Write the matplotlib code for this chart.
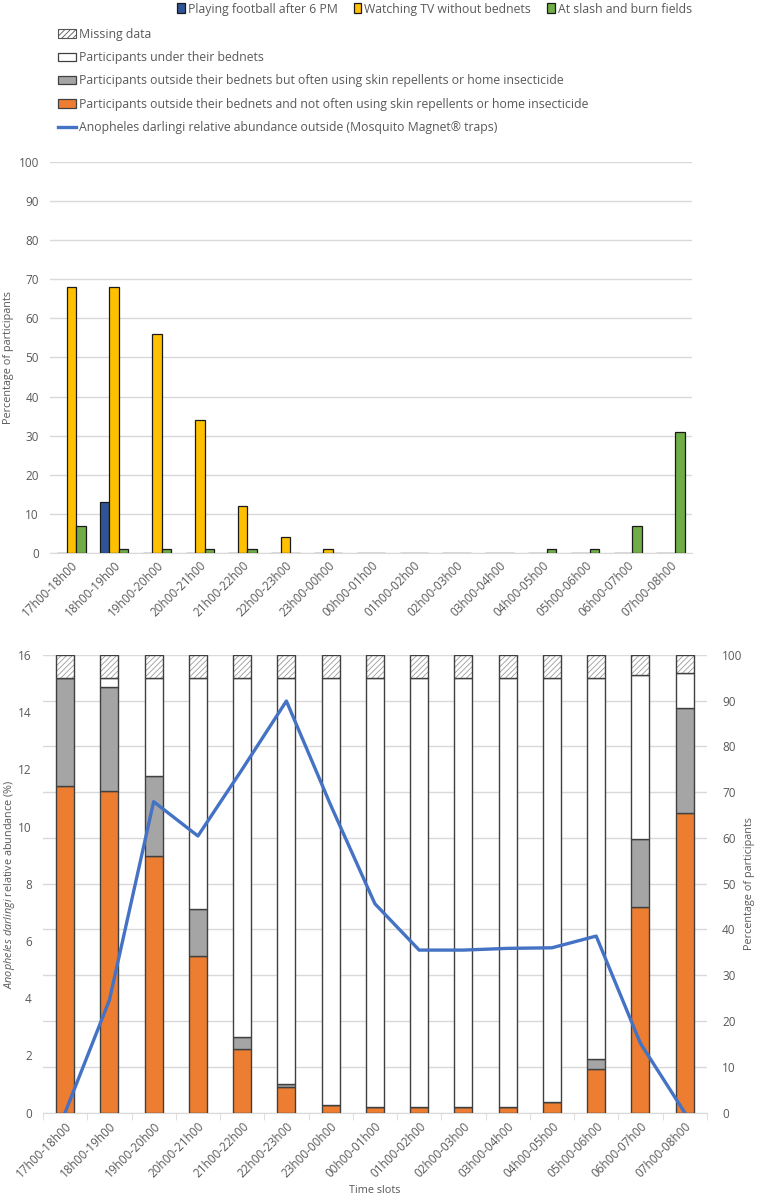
import numpy as np
import matplotlib
matplotlib.use('Agg')
import matplotlib.pyplot as plt
from matplotlib.patches import Patch
from matplotlib.lines import Line2D

plt.rcParams['font.family'] = ['Open Sans', 'DejaVu Sans']
plt.rcParams['mathtext.fontset'] = 'custom'
plt.rcParams['mathtext.it'] = 'Open Sans:italic'
plt.rcParams['mathtext.rm'] = 'Open Sans'
plt.rcParams['hatch.linewidth'] = 0.6

# time slots
slots = ['17h00-18h00', '18h00-19h00', '19h00-20h00', '20h00-21h00', '21h00-22h00',
         '22h00-23h00', '23h00-00h00', '00h00-01h00', '01h00-02h00', '02h00-03h00',
         '03h00-04h00', '04h00-05h00', '05h00-06h00', '06h00-07h00', '07h00-08h00']

# top panel: % of participants outside doing each activity
football = [0, 13, 0, 0, 0, 0, 0, 0, 0, 0, 0, 0, 0, 0, 0]
tv = [68, 68, 56, 34, 12, 4, 1, 0, 0, 0, 0, 0, 0, 0, 0]
slash_burn = [7, 1, 1, 1, 1, 0, 0, 0, 0, 0, 0, 1, 1, 7, 31]

# bottom panel: stacked % of participants
not_often = [71.4, 70.3, 56.0, 34.1, 13.8, 5.5, 1.7, 1.2, 1.2, 1.2, 1.2, 2.3, 9.5, 44.9, 65.5]
often = [23.6, 22.6, 17.6, 10.4, 2.8, 0.7, 0, 0, 0, 0, 0, 0, 2.1, 14.9, 22.9]
under_net = [0, 2.1, 21.4, 50.5, 78.4, 88.8, 93.3, 93.8, 93.8, 93.8, 93.8, 92.7, 83.4, 35.9, 7.7]
missing = [5.0, 5.0, 5.0, 5.0, 5.0, 5.0, 5.0, 5.0, 5.0, 5.0, 5.0, 5.0, 5.0, 4.3, 3.9]

# An. darlingi relative abundance outside (%)
abundance = [0, 3.93, 10.87, 9.67, 12.0, 14.39, 10.75, 7.3, 5.68, 5.68, 5.74, 5.76, 6.17, 2.42, 0]

txt = '#595959'
grid_c = '#d9d9d9'
c_fb, c_tv, c_sb = '#2f5597', '#ffc000', '#70ad47'
c_or, c_gr, c_line = '#ed7d31', '#a5a5a5', '#4472c4'
fs = 8.5
lfs = 8.8

fig = plt.figure(figsize=(7.6, 12), dpi=100)
x = np.arange(len(slots))

# ---- top chart
ax = fig.add_axes([0.0658, 0.5392, 0.8447, 0.3258])
w = 0.22
ax.bar(x - w, football, w, color=c_fb, edgecolor='#1a1a1a', linewidth=0.9, zorder=3)
ax.bar(x, tv, w, color=c_tv, edgecolor='#1a1a1a', linewidth=0.9, zorder=3)
ax.bar(x + w, slash_burn, w, color=c_sb, edgecolor='#1a1a1a', linewidth=0.9, zorder=3)
ax.set_xlim(-0.5, len(slots) - 0.5)
ax.set_ylim(0, 100)
ax.set_yticks(np.arange(0, 101, 10))
ax.yaxis.grid(True, color=grid_c, linewidth=1)
ax.set_axisbelow(True)
for s in ['top', 'right', 'left']:
    ax.spines[s].set_visible(False)
ax.spines['bottom'].set_color(grid_c)
ax.tick_params(axis='both', length=0, labelsize=fs, colors=txt, pad=4)
ax.tick_params(axis='y', pad=8)
ax.set_xticks(x)
ax.set_xticklabels(slots, rotation=45, ha='right', rotation_mode='anchor')
ax.set_ylabel('Percentage of participants', fontsize=fs - 0.7, color=txt, labelpad=3)

# ---- bottom chart
axb = fig.add_axes([0.0566, 0.0729, 0.8734, 0.3813])
ax2 = axb.twinx()
bw = 0.41
ek = '#404040'
axb.bar(x, not_often, bw, color=c_or, edgecolor=ek, linewidth=1, zorder=3)
b1 = np.array(not_often)
axb.bar(x, often, bw, bottom=b1, color=c_gr, edgecolor=ek, linewidth=1, zorder=3)
b2 = b1 + np.array(often)
axb.bar(x, under_net, bw, bottom=b2, color='white', edgecolor=ek, linewidth=1, zorder=3)
b3 = b2 + np.array(under_net)
axb.bar(x, missing, bw, bottom=b3, color='white', edgecolor='#9a9a9a', hatch='//////',
        linewidth=0, zorder=3)
axb.bar(x, missing, bw, bottom=b3, fill=False, edgecolor=ek, linewidth=1, zorder=4)
axb.set_xlim(-0.5, len(slots) - 0.5)
axb.set_ylim(0, 100)
axb.set_yticks(np.arange(0, 101, 10))
axb.yaxis.grid(True, color=grid_c, linewidth=1)
axb.set_axisbelow(True)
axb.yaxis.tick_right()
axb.yaxis.set_label_position('right')
for s in ['top', 'right', 'left']:
    axb.spines[s].set_visible(False)
axb.spines['bottom'].set_color(grid_c)
axb.set_xticks(x)
axb.set_xticklabels(slots, rotation=45, ha='right', rotation_mode='anchor')
axb.set_xticks(np.arange(-0.5, len(slots), 1), minor=True)
axb.tick_params(axis='x', which='minor', length=5, color=grid_c)
axb.tick_params(axis='both', which='major', length=0, labelsize=fs, colors=txt, pad=5)
axb.tick_params(axis='y', pad=11)
axb.set_ylabel('Percentage of participants', fontsize=fs - 0.7, color=txt, labelpad=1)
axb.set_xlabel('Time slots', fontsize=fs - 0.7, color=txt, labelpad=4)

ax2.plot(x, abundance, color=c_line, linewidth=2.4, zorder=5)
ax2.set_ylim(0, 16)
ax2.set_yticks(np.arange(0, 17, 2))
ax2.yaxis.tick_left()
ax2.yaxis.set_label_position('left')
for s in ['top', 'right', 'left', 'bottom']:
    ax2.spines[s].set_visible(False)
ax2.tick_params(axis='y', length=0, labelsize=fs, colors=txt, pad=8)
ax2.set_ylabel(r'$\mathit{Anopheles\ darlingi}$ relative abundance (%)', fontsize=fs - 0.7,
               color=txt, labelpad=1)

# ---- legends
h1 = [Patch(facecolor=c_fb, edgecolor='#1a1a1a', linewidth=0.9),
      Patch(facecolor=c_tv, edgecolor='#1a1a1a', linewidth=0.9),
      Patch(facecolor=c_sb, edgecolor='#1a1a1a', linewidth=0.9)]
l1 = ['Playing football after 6 PM', 'Watching TV without bednets', 'At slash and burn fields']
fig.legend(h1, l1, ncol=3, loc='upper left', bbox_to_anchor=(0.219, 1.007), frameon=False,
           fontsize=lfs, labelcolor=txt, handlelength=0.62, handleheight=0.9,
           handletextpad=0.25, columnspacing=1.3)

h2 = [Patch(facecolor='white', edgecolor='#555555', hatch='//////', linewidth=0.8),
      Patch(facecolor='white', edgecolor=ek, linewidth=0.9),
      Patch(facecolor=c_gr, edgecolor=ek, linewidth=0.9),
      Patch(facecolor=c_or, edgecolor=ek, linewidth=0.9),
      Line2D([0], [0], color=c_line, linewidth=2.4)]
l2 = ['Missing data', 'Participants under their bednets',
      'Participants outside their bednets but often using skin repellents or home insecticide',
      'Participants outside their bednets and not often using skin repellents or home insecticide',
      'Anopheles darlingi relative abundance outside (Mosquito Magnet\u00ae traps)']
fig.legend(h2, l2, ncol=1, loc='upper left', bbox_to_anchor=(0.062, 0.986), frameon=False,
           fontsize=lfs, labelcolor=txt, handlelength=1.5, handleheight=0.7,
           handletextpad=0.2, labelspacing=0.84)

fig.savefig('out.png', dpi=100, facecolor='white')
